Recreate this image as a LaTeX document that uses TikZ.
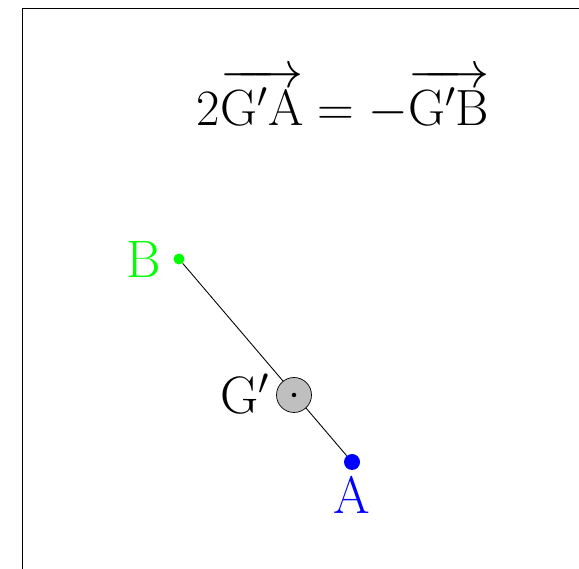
\RequirePackage{fix-cm}
\documentclass[tikz,border=0pt]{standalone}
\usepackage{amsmath}
\usepackage{tikz}
\usepackage{xcolor}

\tikzset{
  pt/.style={circle,inner sep=0pt},
  lbl/.style={anchor=base,font=\fontsize{30}{36}\selectfont},
}

\begin{document}
\begin{tikzpicture}
    \useasboundingbox (0,0) rectangle (11.58,11.38);
    \draw (0.44,-1)--(0.44,11.22)--(12,11.22);
    \node [pt,fill=green,minimum size=0.22cm] (B) at (3.58,6.2) {};
    \node [pt,fill=blue,minimum size=0.32cm] (A) at (7.04,2.14) {};
    \draw [line width=0.5pt] (B)--(A);
    \node [pt,draw,fill=black!25,minimum size=0.7cm] (G) at (5.88,3.48) {};
    \fill (G.center) circle (0.045);
    \node [lbl,text=green] (labB) at (2.88,5.82) {B};
    \node [lbl,text=blue] (labA) at (7.04,1.1) {A};
    \node [lbl] (labG) at (4.9,3.1) {G$'$};
    \node [lbl,font=\fontsize{29}{34}\selectfont] (eq) at (6.86,8.86) {$2\overrightarrow{\mathrm{G'A}}=-\overrightarrow{\mathrm{G'B}}$};
\end{tikzpicture}
\end{document}
